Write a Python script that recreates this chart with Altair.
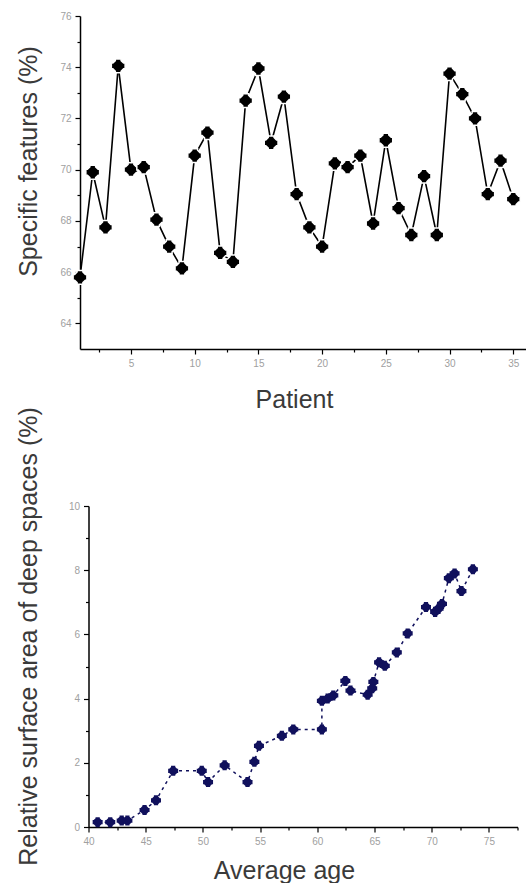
import altair as alt
import pandas as pd

# ---- Top panel: specific features per patient ----
patient = list(range(1, 36))
specific = [65.8, 69.9, 67.75, 74.05, 70.0, 70.1, 68.05, 67.0, 66.15, 70.55,
            71.45, 66.75, 66.4, 72.7, 73.95, 71.05, 72.85, 69.05, 67.75, 67.0,
            70.25, 70.1, 70.55, 67.9, 71.15, 68.5, 67.45, 69.75, 67.45, 73.75,
            72.95, 72.0, 69.05, 70.35, 68.85]

# ---- Bottom panel: relative surface area of deep spaces vs average age ----
age = [40.8, 41.9, 42.9, 43.4, 44.9, 45.9, 47.4, 49.9, 50.45, 51.9,
       53.9, 54.5, 54.9, 56.9, 57.9, 60.4, 60.4, 60.9, 61.4, 62.45,
       62.9, 64.4, 64.8, 64.9, 65.4, 65.9, 66.95, 67.9, 69.5, 70.3,
       70.6, 70.9, 71.5, 72.0, 72.6, 73.6]
area = [0.15, 0.15, 0.2, 0.2, 0.53, 0.83, 1.75, 1.75, 1.4, 1.92,
        1.4, 2.03, 2.53, 2.84, 3.04, 3.04, 3.93, 4.0, 4.1, 4.55,
        4.25, 4.12, 4.32, 4.52, 5.13, 5.02, 5.44, 6.03, 6.85, 6.7,
        6.8, 6.95, 7.75, 7.9, 7.35, 8.03]

top_df = pd.DataFrame({"Patient": patient, "Specific": specific})
bot_df = pd.DataFrame({"Age": age, "Area": area, "idx": list(range(len(age)))})

FONT = "Liberation Sans"
TITLE_COLOR = "#3a3a3a"
LABEL_COLOR = "#a0a0a0"

notched = ("M-0.42,-1L0.42,-1L0.42,-0.78L0.78,-0.42L1,-0.42L1,0.42L0.78,0.42"
           "L0.42,0.78L0.42,1L-0.42,1L-0.42,0.78L-0.78,0.42L-1,0.42L-1,-0.42"
           "L-0.78,-0.42L-0.42,-0.78Z")


def ax(title, values, major_test, title_x, title_y, angle_title=False):
    kw = dict(
        title=title,
        values=values,
        labelExpr=f"({major_test}) ? datum.label : ''",
        tickSize={"condition": {"test": major_test, "value": 5}, "value": 3},
        tickColor="black",
        tickWidth=1.2,
        domainColor="black",
        domainWidth=1.5,
        labelFont=FONT,
        labelFontSize=10,
        labelColor=LABEL_COLOR,
        labelPadding=4,
        labelFlush=False,
        labelOverlap=False,
        labelBound=False,
        grid=False,
        titleFont=FONT,
        titleFontSize=25,
        titleFontWeight="normal",
        titleColor=TITLE_COLOR,
        titleX=title_x,
        titleY=title_y,
        titleBaseline="alphabetic",
        titleAlign="center",
    )
    if angle_title:
        kw["titleAngle"] = 270
    return alt.Axis(**kw)


top_x = alt.X("Patient:Q",
              scale=alt.Scale(domain=[1, 36], nice=False, zero=False),
              axis=ax("Patient", [2.5 * i for i in range(1, 15)],
                      "datum.value % 5 == 0", 214, 58))
top_y = alt.Y("Specific:Q",
              scale=alt.Scale(domain=[63, 76], nice=False, zero=False),
              axis=ax("Specific features (%)", list(range(64, 77)),
                      "datum.value % 2 == 0", -44, 145, True))

top_line = alt.Chart(top_df).mark_line(color="black", strokeWidth=1.6).encode(
    x=top_x, y=top_y)
top_pts = alt.Chart(top_df).mark_point(
    shape=notched, filled=True, fill="black", stroke="white",
    strokeWidth=1.5, size=190, opacity=1).encode(x=top_x, y=top_y)
top = alt.layer(top_line, top_pts).properties(width=446, height=333)

bot_x = alt.X("Age:Q",
              scale=alt.Scale(domain=[40, 77.5], nice=False, zero=False),
              axis=ax("Average age", [40 + 2.5 * i for i in range(0, 16)],
                      "datum.value % 5 == 0", 195.5, 51))
bot_y = alt.Y("Area:Q",
              scale=alt.Scale(domain=[0, 10], nice=False, zero=False),
              axis=ax("Relative surface area of deep spaces (%)",
                      list(range(0, 11)), "datum.value % 2 == 0",
                      -52.5, 130, True))

NAVY = "#10105c"
bot_line = alt.Chart(bot_df).mark_line(
    color=NAVY, strokeWidth=1.5, strokeDash=[3, 4]).encode(
    x=bot_x, y=bot_y, order="idx:Q")
bot_pts = alt.Chart(bot_df).mark_point(
    shape=notched, filled=True, fill=NAVY, size=100, opacity=1,
    strokeWidth=0).encode(x=bot_x, y=bot_y)
bottom = alt.layer(bot_line, bot_pts).properties(width=429, height=321)

chart = alt.vconcat(top, bottom, spacing=157, bounds="flush", center=True).properties(
    padding={"left": 15, "top": 11, "right": 0, "bottom": 0},
    background="white",
).configure_view(stroke=None)

chart.save("out.html", embed_options={"renderer": "svg", "actions": False})
